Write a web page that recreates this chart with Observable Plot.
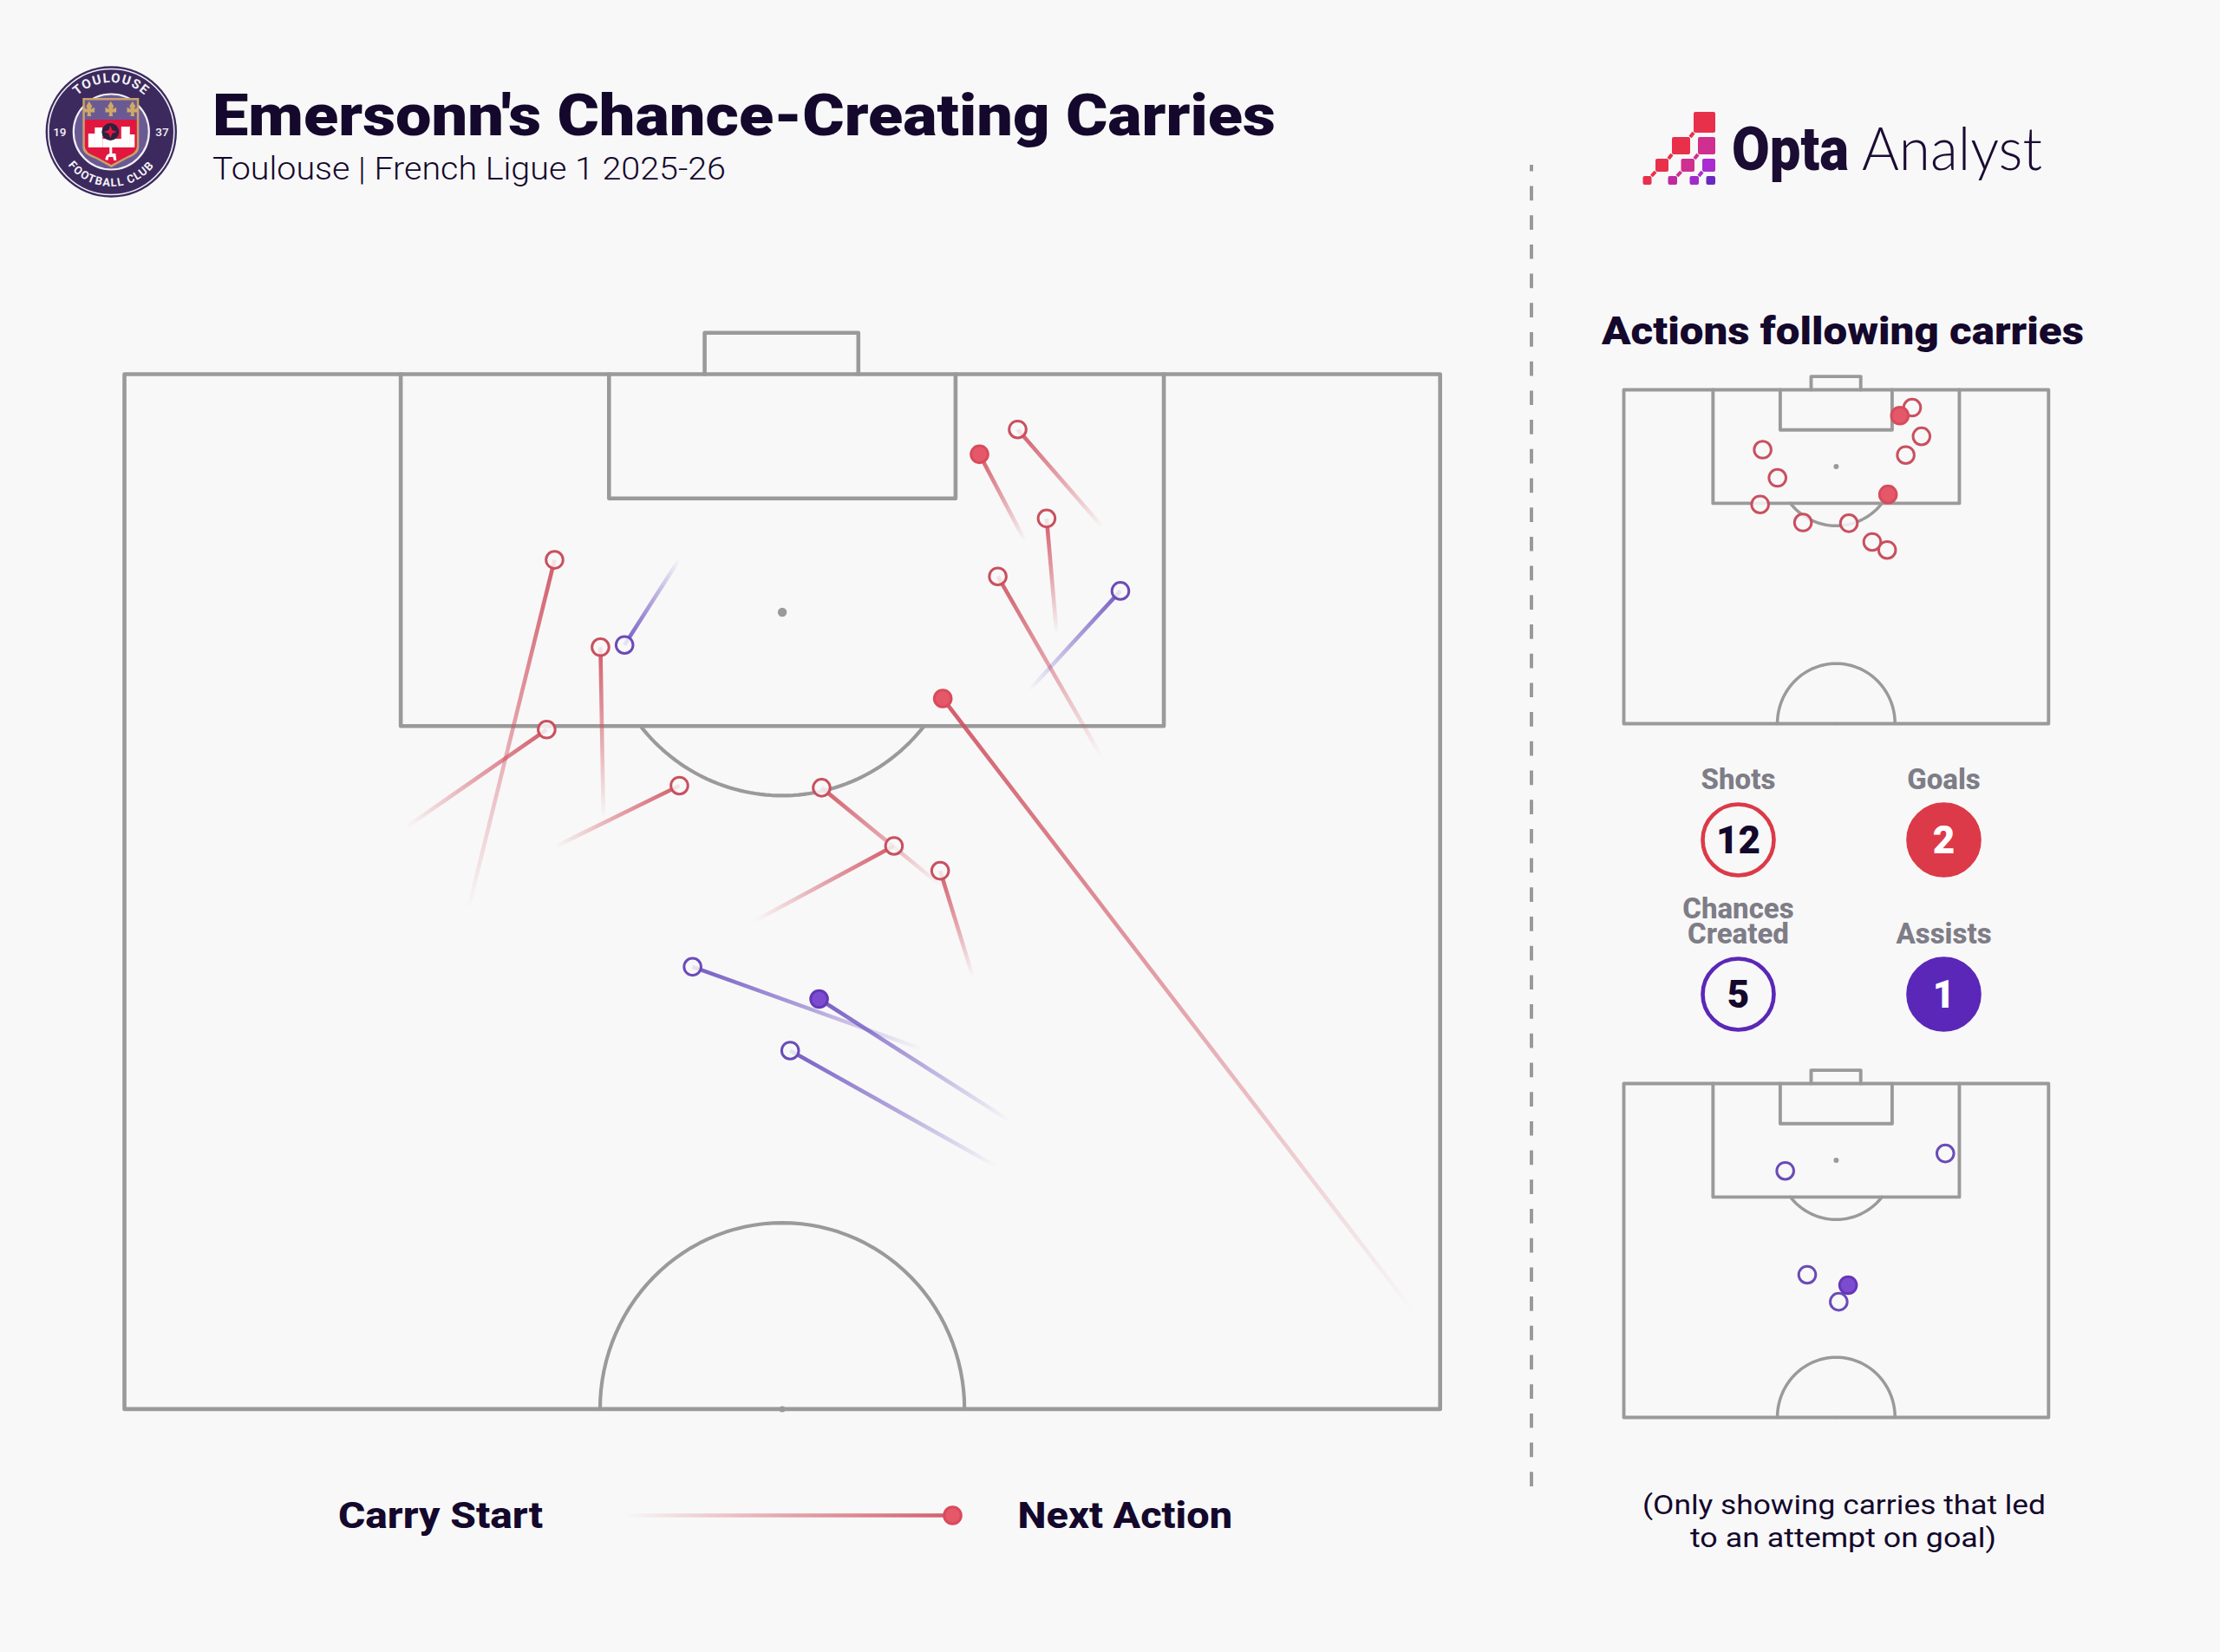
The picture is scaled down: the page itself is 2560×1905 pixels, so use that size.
<!DOCTYPE html>
<html>
<head>
<meta charset="utf-8">
<title>Emersonn's Chance-Creating Carries</title>
<script src="https://cdn.jsdelivr.net/npm/d3@7"></script>
<script src="https://cdn.jsdelivr.net/npm/@observablehq/plot@0.6"></script>
<style>
  html, body { margin: 0; background: #f8f8f8; }
  #page { position: relative; width: 2560px; height: 1905px; overflow: hidden; background: #f8f8f8; }
  .slot { position: absolute; }
  .slot svg { display: block; max-width: none; background: transparent; overflow: visible; }
  #overlay { position: absolute; left: 0; top: 0; }
</style>
</head>
<body>
<div id="page"></div>
<script>
// ---- Data: pitch coordinates, x 0-100 across, y 50 (halfway) to 100 (goal line) ----
const shotEndX   = [67.89, 64.99, 70.09, 66.38, 32.69, 36.18, 32.09, 42.18, 52.99, 58.49, 62.00, 62.20];
const shotEndY   = [97.33, 96.13, 93.03, 90.23, 91.03, 86.81, 82.83, 80.12, 80.02, 77.21, 76.01, 84.33];
const shotStartX = [74.38, 68.45, 70.86, 74.27, 26.14, 36.41, 21.41, 32.73, 62.07, 47.90, 64.49, 98.00];
const shotStartY = [92.58, 91.94, 87.44, 81.50, 74.17, 78.50, 78.11, 77.17, 75.29, 73.58, 70.88, 54.68];
const shotIsGoal = [false, true, false, false, false, false, false, false, false, false, false, true];

const chanceEndX   = [75.70, 38.01, 43.18, 52.80, 50.60];
const chanceEndY   = [89.53, 86.92, 71.37, 69.81, 67.32];
const chanceStartX = [68.78, 42.18, 60.75, 67.28, 66.25];
const chanceStartY = [84.74, 91.07, 67.36, 63.93, 61.74];
const chanceIsAssist = [false, false, false, true, false];

const statNames  = ["Shots", "Goals", "Chances\nCreated", "Assists"];
const statValues = [12, 2, 5, 1];
const statColumn = [0, 1, 0, 1];
const statRow    = [0, 0, 1, 1];
const statFilled = [false, true, false, true];
const statColor  = ["#dc3a48", "#dc3a48", "#5b27b8", "#5b27b8"];

const INK = "#14082c", BG = "#f8f8f8", LINE = "#9a9a9a";
const RED = {line: "#d0505f", open: "#c9505f", fill: "#e5586a", edge: "#d84b5b"};
const PUR = {line: "#6a50c0", open: "#6a4bb8", fill: "#7c4cd0", edge: "#6537b8"};
const SANS = "Roboto, 'Liberation Sans', sans-serif";

const zip = (xe, ye, xs, ys, f, pal) => xe.map((_, i) => ({xe: xe[i], ye: ye[i], xs: xs[i], ys: ys[i], filled: f[i], pal}));
const shots = zip(shotEndX, shotEndY, shotStartX, shotStartY, shotIsGoal, RED);
const chances = zip(chanceEndX, chanceEndY, chanceStartX, chanceStartY, chanceIsAssist, PUR);

// ---- Pitch markings ----
const arc = (cx, cy, rx, ry, from, to) => d3.range(0, 61).map(i => {
  const a = (from + (to - from) * i / 60) * Math.PI / 180;
  return [cx + rx * Math.cos(a), cy + ry * Math.sin(a)];
});
const dAngle = Math.asin(5.5 / 8.86) * 180 / Math.PI;
const pitchShapes = [
  [[0, 50], [0, 100], [100, 100], [100, 50], [0, 50]],
  [[21, 100], [21, 83], [79, 83], [79, 100]],
  [[36.83, 100], [36.83, 94], [63.17, 94], [63.17, 100]],
  [[44.1, 100], [44.1, 102], [55.78, 102], [55.78, 100]]
];
const pitchArcs = [
  arc(50, 88.5, 13.75, 8.86, 180 + dAngle, 360 - dAngle),
  arc(50, 50, 13.85, 9, 0, 180)
];
const rows = shapes => shapes.flatMap((s, k) => s.map(([x, y]) => ({k, x, y})));

const page = document.getElementById("page");
function place(node, left, top) {
  const d = document.createElement("div");
  d.className = "slot";
  d.style.left = left + "px";
  d.style.top = top + "px";
  d.appendChild(node);
  page.appendChild(d);
}

function gradientMark(carries, prefix) {
  return (index, {x, y}) => {
    const defs = d3.create("svg:defs");
    carries.forEach((c, i) => {
      const g = defs.append("linearGradient").attr("id", prefix + i)
        .attr("gradientUnits", "userSpaceOnUse")
        .attr("x1", x(c.xs)).attr("y1", y(c.ys)).attr("x2", x(c.xe)).attr("y2", y(c.ye));
      g.append("stop").attr("offset", 0).attr("stop-color", c.pal.line).attr("stop-opacity", 0);
      g.append("stop").attr("offset", 0.5).attr("stop-color", c.pal.line).attr("stop-opacity", 0.5);
      g.append("stop").attr("offset", 1).attr("stop-color", c.pal.line).attr("stop-opacity", 0.92);
    });
    return defs.node();
  };
}

function dotMarks(data, r, sw) {
  const open = data.filter(d => !d.filled), solid = data.filter(d => d.filled);
  return [
    Plot.dot(open, {x: "xe", y: "ye", r, fill: BG, fillOpacity: 0.85, stroke: d => d.pal.open, strokeWidth: sw}),
    Plot.dot(solid, {x: "xe", y: "ye", r, fill: d => d.pal.fill, stroke: d => d.pal.edge, strokeWidth: sw})
  ];
}

function pitchMarks(sw, spotR, centreR) {
  return [
    Plot.line(rows(pitchArcs), {x: "x", y: "y", z: "k", stroke: LINE, strokeWidth: sw * 0.9, curve: "linear"}),
    Plot.line(rows(pitchShapes), {x: "x", y: "y", z: "k", stroke: LINE, strokeWidth: sw, strokeLinejoin: "round", strokeLinecap: "round"}),
    Plot.dot([{x: 50, y: 88.5}], {x: "x", y: "y", r: spotR, fill: LINE}),
    Plot.dot([{x: 50, y: 50}], {x: "x", y: "y", r: centreR, fill: LINE})
  ];
}

function pitchPlot({left, top, width, height, sw, spotR, centreR, marks}) {
  const ml = 20, mt = 60, mb = 20;
  const p = Plot.plot({
    width: width + 2 * ml, height: height + mt + mb,
    margin: 0,
    style: {background: "transparent", overflow: "visible"},
    x: {domain: [0, 100], range: [ml, ml + width], axis: null},
    y: {domain: [50, 100], range: [mt + height, mt], axis: null},
    color: {type: "identity"},
    marks: [...pitchMarks(sw, spotR, centreR), ...marks]
  });
  place(p, left - ml, top - mt);
}

// ---- Main pitch ----
const allCarries = [...shots, ...chances];
pitchPlot({
  left: 142.6, top: 431.2, width: 1517.2, height: 1193.4, sw: 4.6, spotR: 5.2, centreR: 3.5,
  marks: [
    gradientMark(allCarries, "c"),
    Plot.link(allCarries, {
      x1: "xs", y1: "ys", x2: "xe", y2: "ye",
      stroke: (d, i) => `url(#c${i})`, strokeWidth: 4.6
    }),
    ...dotMarks(allCarries, 9.8, 3)
  ]
});

// ---- Small pitches ----
pitchPlot({
  left: 1872.4, top: 449, width: 489.8, height: 385, sw: 3.9, spotR: 3, centreR: 1.8,
  marks: dotMarks(shots, 9.8, 3)
});
pitchPlot({
  left: 1872.4, top: 1248.8, width: 489.8, height: 385, sw: 3.9, spotR: 3, centreR: 1.8,
  marks: dotMarks(chances, 9.8, 3)
});

// ---- Counts ----
const stats = statNames.map((name, i) => ({
  name, value: statValues[i], col: statColumn[i], row: statRow[i], filled: statFilled[i], color: statColor[i]
}));
place(Plot.plot({
  width: 480, height: 340, margin: 0,
  style: {background: "transparent", overflow: "visible"},
  x: {domain: [0, 1], range: [124, 361], axis: null},
  y: {domain: [0, 1], range: [108, 286], axis: null},
  color: {type: "identity"},
  marks: [
    Plot.dot(stats, {x: "col", y: "row", r: 41, strokeWidth: 4.6,
      stroke: "color", fill: d => d.filled ? d.color : BG}),
    Plot.text(stats, {x: "col", y: "row", text: d => String(d.value), fontSize: 44, fontWeight: 900, dy: 1,
      fontFamily: SANS, fill: d => d.filled ? "#ffffff" : INK}),
    Plot.text(stats, {x: "col", y: "row", text: "name", dy: -59, lineAnchor: "bottom", lineHeight: 0.86,
      fontSize: 33, fontWeight: 800, fontFamily: SANS, fill: "#7e7d87"})
  ]
}), 1880, 860);

// ---- Legend line ----
const legendCarry = [{xs: 0, ys: 0, xe: 1, ye: 0, filled: true, pal: RED}];
place(Plot.plot({
  width: 440, height: 60, margin: 0,
  style: {background: "transparent", overflow: "visible"},
  x: {domain: [0, 1], range: [19, 399], axis: null},
  y: {domain: [-1, 1], range: [60, 0], axis: null},
  color: {type: "identity"},
  marks: [
    gradientMark(legendCarry, "l"),
    Plot.link(legendCarry, {x1: "xs", y1: "ys", x2: "xe", y2: "ye", stroke: () => "url(#l0)", strokeWidth: 4.6}),
    ...dotMarks(legendCarry, 9.8, 3)
  ]
}), 699, 1716.7);

// ---- Titles, footnote, divider, logos (drawn behind the plots) ----
const svg = d3.create("svg").attr("id", "overlay").attr("width", 2560).attr("height", 1905)
  .attr("viewBox", "0 0 2560 1905");
function label(text, x, y, size, weight, width, fill = INK, family = SANS) {
  return svg.append("text").attr("x", x).attr("y", y).attr("font-size", size).attr("font-weight", weight)
    .attr("font-family", family).attr("fill", fill)
    .attr("textLength", width).attr("lengthAdjust", "spacingAndGlyphs").text(text);
}
label("Emersonn's Chance-Creating Carries", 245, 156, 67, 900, 1226);
label("Toulouse | French Ligue 1 2025-26", 245, 206.7, 37.5, 300, 592);
label("Actions following carries", 1847, 396.7, 44, 900, 556);
label("Carry Start", 390, 1761.7, 42, 800, 236);
label("Next Action", 1173.5, 1761.7, 42, 800, 247.5);
label("(Only showing carries that led", 1894, 1746, 32, 400, 465);
label("to an attempt on goal)", 1949, 1784, 32, 400, 353);

svg.append("line").attr("x1", 1766).attr("x2", 1766).attr("y1", 1714).attr("y2", 190)
  .attr("stroke", LINE).attr("stroke-width", 4).attr("stroke-dasharray", "16.7 17");

// Opta Analyst logo
const squares = [
  [1953, 129, 25, 24, "#e8304a"],
  [1928, 158, 21, 20, "#e8304a"], [1958, 158, 20, 20, "#cf2f8e"],
  [1909, 183, 15, 15, "#e8304a"], [1938.5, 183, 15.5, 15, "#cf2f8e"], [1963, 183, 15, 15, "#a92cd0"],
  [1894.5, 203, 10, 10, "#e8304a"], [1923.5, 203, 10.5, 10, "#c02aa0"], [1948.5, 203, 10.5, 10, "#a02cc8"], [1967.5, 203, 10.5, 10, "#6a28c0"]
];
const opta = svg.append("g");
const links = [[1949, 158, 1953, 153, "#e8304a"], [1924, 183, 1928, 178, "#e8304a"], [1904.5, 203, 1909, 198, "#e8304a"],
  [1954, 183, 1958, 178, "#cf2f8e"], [1934, 203, 1938.5, 198, "#cf2f8e"], [1959, 203, 1963, 198, "#a92cd0"]];
links.forEach(([a, b, c, d, col]) => opta.append("line").attr("x1", a).attr("y1", b).attr("x2", c).attr("y2", d)
  .attr("stroke", col).attr("stroke-width", 4));
squares.forEach(([x, y, w, h, col]) => opta.append("rect").attr("x", x).attr("y", y).attr("width", w).attr("height", h)
  .attr("rx", 2).attr("fill", col));
label("Opta", 1997, 196, 71, 900, 135, "#1b0c33");
label("Analyst", 2147, 196, 69, 300, 208, "#1b0c33", "Lato, Inter, sans-serif");

// Toulouse badge
const B = svg.append("g").attr("transform", "translate(128.3,152)");
B.append("circle").attr("r", 75.7).attr("fill", "#3c2a5e");
B.append("circle").attr("r", 72.5).attr("fill", "none").attr("stroke", "#f2f0f5").attr("stroke-width", 1.6);
B.append("circle").attr("r", 43.5).attr("fill", "#6a5a94").attr("stroke", "#f2f0f5").attr("stroke-width", 2.2);
const defs = svg.append("defs");
defs.append("path").attr("id", "badgeTop").attr("d", "M-57,0 A57,57 0 0 1 57,0");
defs.append("path").attr("id", "badgeBottom").attr("d", "M-63,0 A63,63 0 0 0 63,0");
const arcText = (ref, text, size, spacing) => B.append("text").attr("font-size", size).attr("font-weight", 700)
  .attr("font-family", SANS).attr("fill", "#f4f2f7").attr("text-anchor", "middle").attr("letter-spacing", spacing)
  .append("textPath").attr("href", "#" + ref).attr("startOffset", "50%").text(text);
arcText("badgeTop", "TOULOUSE", 15, 1.4);
arcText("badgeBottom", "FOOTBALL CLUB", 13, 1.2);
[["19", -59.5], ["37", 58.7]].forEach(([t, x]) => B.append("text").attr("x", x).attr("y", 5).attr("text-anchor", "middle")
  .attr("font-size", 13.5).attr("font-weight", 500).attr("font-family", SANS).attr("fill", "#f4f2f7").text(t));
B.append("path").attr("d", "M-33,-39 H32 V18 Q32,26 18,31 L0,41 L-18,31 Q-33,26 -33,18 Z")
  .attr("fill", "#c9a26a");
B.append("path").attr("d", "M-30.5,-36.5 H29.5 V-14 H-30.5 Z").attr("fill", "#6a5a94");
B.append("path").attr("d", "M-30.5,-14 H29.5 V17 Q29.5,24 17,29 L0,38 L-17,29 Q-30.5,24 -30.5,17 Z").attr("fill", "#e2173f");
[-25, 0, 25].forEach(x => B.append("path").attr("transform", `translate(${x - 0.5},-26) scale(1.15)`)
  .attr("d", "M0,-8 L3,-3 L1.6,0 L5.5,-2 L5.5,3 L1.4,3 L2,7 H-2 L-1.4,3 L-5.5,3 L-5.5,-2 L-1.6,0 L-3,-3 Z")
  .attr("fill", "#cfa968"));
// buildings
[[-26.5, 2, 8, 16], [-19, -5, 9, 23], [-10, 8, 22, 10], [11.5, -6, 10, 24], [21, 3, 6, 15]]
  .forEach(([x, y, w, h]) => B.append("rect").attr("x", x).attr("y", y).attr("width", w).attr("height", h).attr("fill", "#ffffff"));
B.append("circle").attr("cx", -1).attr("cy", 0).attr("r", 10).attr("fill", "#2c2140");
B.append("path").attr("d", "M-1,-7.5 L1,-2 L6.5,0 L1,2 L-1,7.5 L-3,2 L-8.5,0 L-3,-2 Z").attr("fill", "#e2173f");
B.append("path").attr("d", "M-7,32 Q-6,25 -1,25 L5,25 L6,33 L3,33 L2,29 L-3,29 L-4,33 Z M-2,25 L-2,17 L1,17 L1,25 Z").attr("fill", "#ffffff");

page.insertBefore(svg.node(), page.firstChild);
</script>
</body>
</html>
